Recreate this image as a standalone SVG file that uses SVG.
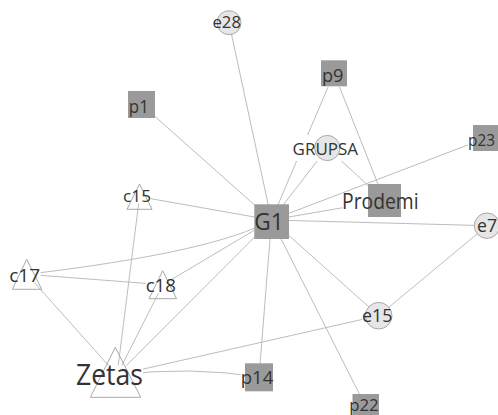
<svg xmlns="http://www.w3.org/2000/svg" width="498" height="415" viewBox="0 0 498 415">
<style>
.e{fill:none;stroke:#bdbdbd;stroke-width:1}
.sq{fill:#9a9a9a}
.ci{fill:#e6e6e6;stroke:#a8a8a8;stroke-width:1}
.tr{fill:none;stroke:#a8a8a8;stroke-width:1}
.bg{fill:#ffffff}
text{font-family:"Open Sans","Noto Sans","Liberation Sans",sans-serif;fill:#333333;text-anchor:middle}
</style>
<rect width="498" height="415" fill="#ffffff"/>
<g id="connectors">
<path class="e" d="M229,22.7L271.5,220"/>
<path class="e" d="M141.5,104.5L271.5,220"/>
<path class="e" d="M334,73L271.5,220"/>
<path class="e" d="M327.3,148L271.5,220"/>
<path class="e" d="M486,138L271.5,220"/>
<path class="e" d="M384.5,200.5L271.5,220"/>
<path class="e" d="M487,225.7L271.5,220"/>
<path class="e" d="M378.7,315.7L271.5,220"/>
<path class="e" d="M366,407L271.5,220"/>
<path class="e" d="M259,377L271.5,220"/>
<path class="e" d="M139.5,196.7L271.5,220"/>
<path class="e" d="M162.8,284.7L271.5,220"/>
<path class="e" d="M27,274.3Q215,252 271.5,220"/>
<path class="e" d="M117,375L271.5,220"/>
<path class="e" d="M334,73L384.5,200.5"/>
<path class="e" d="M327.3,148L384.5,200.5"/>
<path class="e" d="M487,225.7L378.7,315.7"/>
<path class="e" d="M378.7,315.7L117,375"/>
<path class="e" d="M117,375Q190,366 259,377"/>
<path class="e" d="M27,274.3L117,375"/>
<path class="e" d="M139.5,196.7L117,375"/>
<path class="e" d="M162.8,284.7L117,375"/>
<path class="e" d="M27,274.3L162.8,284.7"/>
</g>
<g id="e28"><rect class="bg" x="212.5" y="16" width="28.5" height="14"/><circle class="ci" cx="229" cy="22.7" r="12"/><text x="226.7" y="28.3" font-size="16.5" textLength="28.5" lengthAdjust="spacingAndGlyphs">e28</text></g>
<g id="p1"><rect class="bg" x="129" y="100" width="20" height="18"/><rect class="sq" x="128" y="91" width="27" height="27"/><text x="138.8" y="113" font-size="18" textLength="20" lengthAdjust="spacingAndGlyphs">p1</text></g>
<g id="p9"><rect class="bg" x="322" y="68" width="22" height="19"/><rect class="sq" x="321" y="60.3" width="26" height="26"/><text x="332.7" y="81.7" font-size="18" textLength="21.5" lengthAdjust="spacingAndGlyphs">p9</text></g>
<g id="GRUPSA"><rect class="bg" x="292.5" y="135" width="66" height="26"/><circle class="ci" cx="327.3" cy="148" r="12.6"/><text x="325.3" y="155" font-size="17" textLength="65.5" lengthAdjust="spacingAndGlyphs">GRUPSA</text></g>
<g id="p23"><rect class="bg" x="468" y="132" width="29" height="19"/><rect class="sq" x="473" y="125" width="25" height="26"/><text x="481.5" y="145.7" font-size="17" textLength="27" lengthAdjust="spacingAndGlyphs">p23</text></g>
<g id="Prodemi"><rect class="bg" x="342.5" y="193.5" width="76" height="17"/><rect class="sq" x="368" y="184" width="33" height="33"/><text x="380.3" y="209" font-size="21.5" textLength="76.5" lengthAdjust="spacingAndGlyphs">Prodemi</text></g>
<g id="G1"><rect class="bg" x="254.5" y="212" width="29" height="19"/><rect class="sq" x="254.3" y="204.3" width="34.7" height="34.7"/><text x="269" y="230" font-size="23" textLength="29.5" lengthAdjust="spacingAndGlyphs">G1</text></g>
<g id="c15"><rect class="bg" x="123" y="190" width="28" height="13.5"/><polygon class="tr" points="139.5,184 127,209.3 152,209.3"/><text x="137" y="202.3" font-size="16.5" textLength="28" lengthAdjust="spacingAndGlyphs">c15</text></g>
<g id="e7"><rect class="bg" x="477" y="218" width="21" height="15"/><circle class="ci" cx="487" cy="225.7" r="12.7"/><text x="487" y="231.7" font-size="18" textLength="20" lengthAdjust="spacingAndGlyphs">e7</text></g>
<g id="c17"><rect class="bg" x="9" y="268" width="31.5" height="15"/><polygon class="tr" points="26.7,259.3 12.3,289.3 41.7,289.3"/><text x="24.7" y="281.7" font-size="18" textLength="31" lengthAdjust="spacingAndGlyphs">c17</text></g>
<g id="c18"><rect class="bg" x="145.7" y="279.5" width="30.5" height="14"/><polygon class="tr" points="162.7,270.7 149,298.7 176.5,298.7"/><text x="160.8" y="292.3" font-size="17.5" textLength="30.3" lengthAdjust="spacingAndGlyphs">c18</text></g>
<g id="e15"><rect class="bg" x="362" y="309" width="30.5" height="14"/><circle class="ci" cx="378.7" cy="315.7" r="13.3"/><text x="377.2" y="321.7" font-size="17.5" textLength="30.3" lengthAdjust="spacingAndGlyphs">e15</text></g>
<g id="Zetas"><rect class="bg" x="76" y="365.5" width="67" height="27"/><polygon class="tr" points="115.3,347.3 90.3,397.3 140.7,397.3"/><text x="109.5" y="385" font-size="29" textLength="67" lengthAdjust="spacingAndGlyphs">Zetas</text></g>
<g id="p14"><rect class="bg" x="240.7" y="371" width="32.6" height="18"/><rect class="sq" x="245" y="363.3" width="28" height="28"/><text x="257" y="384.3" font-size="18" textLength="32.6" lengthAdjust="spacingAndGlyphs">p14</text></g>
<g id="p22"><rect class="bg" x="348.5" y="399" width="31" height="16"/><rect class="sq" x="352.5" y="394" width="26.5" height="26.5"/><text x="363.9" y="410.8" font-size="17" textLength="29.5" lengthAdjust="spacingAndGlyphs">p22</text></g>
</svg>
